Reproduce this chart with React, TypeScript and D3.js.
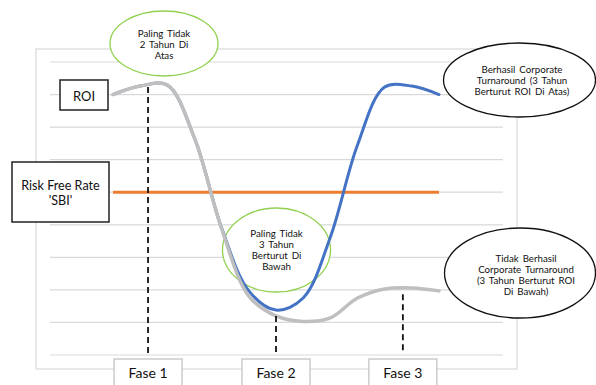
import React from "react";
import * as d3 from "d3";

// Time steps (years) along the turnaround path
const steps = [0, 1, 2, 3, 4, 5, 6, 7, 8, 9, 10, 11, 12];

// ROI path of a company that achieves a turnaround
const roiSuccess = [8.0, 8.26, 8.29, 6.66, 3.9, 1.97, 1.38, 1.75, 3.62, 6.45, 8.23, 8.26, 8.0];
// ROI path of a company that fails to turn around
const roiFail = [8.0, 8.26, 8.29, 6.66, 3.87, 1.81, 1.2, 1.03, 1.14, 1.75, 2.03, 2.06, 1.97];
// Risk free rate (SBI) level
const riskFree = [5, 5];
const riskFreeSteps = [0, 12];

// Phase markers: position on the time axis and the top of each marker line
const phaseNames = ["Fase 1", "Fase 2", "Fase 3"];
const phaseAt = [1.29, 6.0, 10.67];
const phaseTop = [8.26, 1.23, 1.9];

const gridLevels = [0, 1, 2, 3, 4, 5, 6, 7, 8, 9];

const W = 596;
const H = 385;
const FONT = "Lato, 'Open Sans', sans-serif";

export default function App() {
  const x = d3.scaleLinear().domain([0, 12]).range([113, 439]);
  const y = d3.scaleLinear().domain([0, 9]).range([355, 62]);

  const line = d3
    .line<[number, number]>()
    .x((d) => x(d[0]))
    .y((d) => y(d[1]))
    .curve(d3.curveCatmullRom.alpha(0.5));

  const straight = d3
    .line<[number, number]>()
    .x((d) => x(d[0]))
    .y((d) => y(d[1]));

  const successPath = line(steps.map((s, i) => [s, roiSuccess[i]]));
  const failPath = line(steps.map((s, i) => [s, roiFail[i]]));
  const rfPath = straight(riskFreeSteps.map((s, i) => [s, riskFree[i]]));

  const smallText = { fontFamily: FONT, fontSize: 9.7, fill: "#111" } as const;

  const multiline = (lines: string[], cx: number, y0: number, dy: number) => (
    <text textAnchor="middle" style={smallText}>
      {lines.map((l, i) => (
        <tspan key={i} x={cx} y={y0 + i * dy} style={{ wordSpacing: "1.5px" }}>
          {l}
        </tspan>
      ))}
    </text>
  );

  return (
    <div style={{ position: "fixed", left: 0, top: 0 }}>
      <svg width={W} height={H} style={{ display: "block", background: "#fff" }}>
        {/* plot area frame */}
        <rect x={36} y={49} width={481} height={320} fill="none" stroke="#D9D9D9" strokeWidth={1.2} />

        {/* horizontal gridlines */}
        {gridLevels.map((g) => (
          <line key={g} x1={50} x2={503} y1={y(g)} y2={y(g)} stroke="#D9D9D9" strokeWidth={1.2} />
        ))}

        {/* green callouts */}
        <ellipse cx={164} cy={43.5} rx={54} ry={32.5} fill="#fff" stroke="#92D050" strokeWidth={1.3} />
        <ellipse cx={276.5} cy={250} rx={54} ry={42} fill="#fff" stroke="#92D050" strokeWidth={1.3} />

        {/* risk free rate */}
        <path d={rfPath ?? ""} fill="none" stroke="#ED7D31" strokeWidth={3} />

        {/* ROI paths */}
        <path d={successPath ?? ""} fill="none" stroke="#4472C4" strokeWidth={3} strokeLinecap="round" />
        <path d={failPath ?? ""} fill="none" stroke="#BFBFBF" strokeWidth={3.5} strokeLinecap="round" />

        {/* phase markers */}
        {phaseAt.map((p, i) => (
          <line
            key={i}
            x1={x(p)}
            x2={x(p)}
            y1={y(phaseTop[i]) + 1}
            y2={y(0.06)}
            stroke="#111"
            strokeWidth={1.8}
            strokeDasharray="6 4"
          />
        ))}

        {/* phase labels */}
        {phaseAt.map((p, i) => (
          <g key={i}>
            <rect x={x(p) - 34} y={359} width={68} height={34} fill="#fff" stroke="#BFBFBF" strokeWidth={1.2} />
            <text x={x(p)} y={377.5} textAnchor="middle" style={{ fontFamily: FONT, fontSize: 14, fill: "#111" }}>
              {phaseNames[i]}
            </text>
          </g>
        ))}

        {/* series labels */}
        <rect x={60} y={80} width={48} height={30} fill="#fff" stroke="#222" strokeWidth={1.5} />
        <text x={84} y={100.5} textAnchor="middle" style={{ fontFamily: FONT, fontSize: 13, fill: "#111" }}>
          ROI
        </text>
        <rect x={12} y={162} width={97} height={60} fill="#fff" stroke="#222" strokeWidth={1.5} />
        <text textAnchor="middle" style={{ fontFamily: FONT, fontSize: 12.6, fill: "#111" }}>
          <tspan x={60.5} y={189.5}>Risk Free Rate</tspan>
          <tspan x={60.5} y={204.5}>'SBI'</tspan>
        </text>

        {/* callout texts */}
        {multiline(["Paling Tidak", "2 Tahun Di", "Atas"], 164, 36.5, 11.3)}
        {multiline(["Paling Tidak", "3 Tahun", "Berturut Di", "Bawah"], 276.5, 236.5, 11.3)}

        {/* outcome callouts */}
        <ellipse cx={519.5} cy={80} rx={76} ry={37} fill="#fff" stroke="#111" strokeWidth={1.3} />
        {multiline(["Berhasil Corporate", "Turnaround  (3 Tahun", "Berturut ROI Di Atas)"], 522, 72.5, 11)}
        <ellipse cx={520} cy={273} rx={75.5} ry={45} fill="#fff" stroke="#111" strokeWidth={1.3} />
        {multiline(["Tidak Berhasil", "Corporate Turnaround", "(3 Tahun Berturut ROI", "Di Bawah)"], 526, 261.5, 11)}
      </svg>
    </div>
  );
}
